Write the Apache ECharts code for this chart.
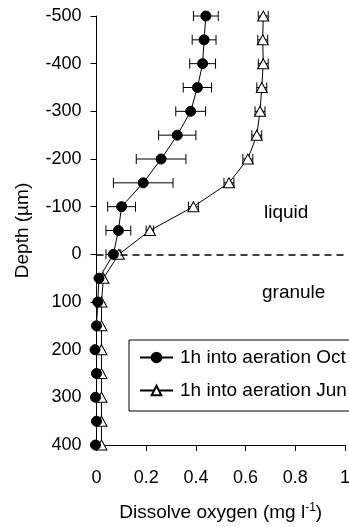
<!DOCTYPE html>
<html>
<head>
<meta charset="utf-8">
<script src="https://cdn.jsdelivr.net/npm/echarts@6/dist/echarts.min.js"></script>
<style>html,body{margin:0;padding:0;background:#fff}#c{width:349px;height:527px}</style>
</head>
<body>
<div id="c"></div>
<script>
// Data
var depths = [-500,-450,-400,-350,-300,-250,-200,-150,-100,-50,0,50,100,150,200,250,300,350,400];
var octValues = [0.44,0.433,0.427,0.406,0.379,0.325,0.26,0.188,0.101,0.088,0.068,0.01,0.005,0,-0.006,0,-0.004,0,-0.004];
var octErrors = [0.05,0.048,0.052,0.057,0.06,0.075,0.1,0.12,0.056,0.05,0.03,0,0,0,0,0,0,0,0];
var junValues = [0.671,0.669,0.671,0.665,0.658,0.645,0.609,0.533,0.39,0.215,0.09,0.028,0.02,0.02,0.02,0.02,0.02,0.02,0.02];
var junErrors = [0.02,0.02,0.02,0.02,0.02,0.02,0.02,0.02,0.02,0.015,0,0,0,0,0,0,0,0,0];
var xTicks = [0,0.2,0.4,0.6,0.8,1];
var yTicks = [-500,-400,-300,-200,-100,0,100,200,300,400];
var seriesNames = ['1h into aeration Oct','1h into aeration Jun'];

var FONT = 'Liberation Sans, Arial, sans-serif';

function pts(vals){ return vals.map(function(v,i){ return [v, depths[i]]; }); }
function errPts(vals, errs){ return vals.map(function(v,i){ return [v, depths[i], errs[i]]; }); }

function renderErr(params, api){
  var x = api.value(0), y = api.value(1), e = api.value(2);
  if (!e) return null;
  var p1 = api.coord([x - e, y]);
  var p2 = api.coord([x + e, y]);
  var st = {stroke:'#000', lineWidth:1};
  return {type:'group', children:[
    {type:'line', shape:{x1:p1[0],y1:p1[1],x2:p2[0],y2:p2[1]}, style:st},
    {type:'line', shape:{x1:p1[0],y1:p1[1]-5,x2:p1[0],y2:p1[1]+5}, style:st},
    {type:'line', shape:{x1:p2[0],y1:p2[1]-5,x2:p2[0],y2:p2[1]+5}, style:st}
  ]};
}

var chart = echarts.init(document.getElementById('c'), null, {renderer:'canvas'});
chart.setOption({
  animation:false,
  backgroundColor:'#fff',
  textStyle:{fontFamily:FONT},
  grid:{left:96.5, right:4, top:16, bottom:82, containLabel:false, outerBoundsMode:'none'},
  legend:{
    orient:'vertical', left:129, top:340,
    data:seriesNames,
    itemWidth:33, itemHeight:12, itemGap:14,
    padding:[8,10,11,10],
    borderColor:'#000', borderWidth:1, borderRadius:0,
    backgroundColor:'#fff',
    textStyle:{fontFamily:FONT, fontSize:19, color:'#000', padding:[0,0,0,2]}
  },
  xAxis:{
    type:'value', min:0, max:1, interval:0.2,
    name:'Dissolve oxygen (mg l{sup|-1})', nameLocation:'middle', nameGap:57,
    nameTextStyle:{fontFamily:FONT, fontSize:19, color:'#000',
      rich:{sup:{fontSize:12, verticalAlign:'top', padding:[0,0,9,0], fontFamily:FONT, color:'#000'}}},
    axisLine:{onZero:false, lineStyle:{color:'#000', width:1}},
    axisTick:{show:true, inside:false, length:6, lineStyle:{color:'#000'}},
    axisLabel:{fontFamily:FONT, fontSize:18, color:'#000', margin:24,
      formatter:function(v){ return xTicks.indexOf(Math.round(v*10)/10) >= 0 ? String(Math.round(v*10)/10) : ''; }},
    splitLine:{show:false}
  },
  yAxis:{
    type:'value', inverse:true, min:-500, max:400, interval:100,
    name:'Depth (\u00b5m)', nameLocation:'middle', nameGap:64, nameRotate:90,
    nameTextStyle:{fontFamily:FONT, fontSize:19, color:'#000'},
    axisLine:{onZero:false, lineStyle:{color:'#000', width:1}},
    axisTick:{show:true, inside:false, length:6, lineStyle:{color:'#000'}},
    axisLabel:{fontFamily:FONT, fontSize:18, color:'#000', margin:15,
      formatter:function(v){ return yTicks.indexOf(v) >= 0 ? String(v) : ''; }},
    splitLine:{show:false}
  },
  graphic:[
    {type:'text', left:264, top:203, style:{text:'liquid', font:'19px ' + FONT, fill:'#000'}},
    {type:'text', left:262, top:283, style:{text:'granule', font:'19px ' + FONT, fill:'#000'}}
  ],
  series:[
    {type:'custom', name:'errOct', renderItem:renderErr, data:errPts(octValues, octErrors), z:1, silent:true,
      encode:{x:0, y:1}},
    {type:'custom', name:'errJun', renderItem:renderErr, data:errPts(junValues, junErrors), z:1, silent:true,
      encode:{x:0, y:1}},
    {type:'line', name:seriesNames[1], data:pts(junValues), z:3, clip:false,
      symbol:'triangle', symbolSize:[11,10], showSymbol:true, showAllSymbol:true,
      lineStyle:{color:'#000', width:1},
      itemStyle:{color:'#fff', borderColor:'#000', borderWidth:1},
      markLine:{silent:true, symbol:['none','none'], label:{show:false},
        lineStyle:{color:'#000', width:1.5, type:[7,5]},
        data:[{yAxis:0}]}},
    {type:'line', name:seriesNames[0], data:pts(octValues), z:4, clip:false,
      symbol:'circle', symbolSize:10, showSymbol:true, showAllSymbol:true,
      lineStyle:{color:'#000', width:1},
      itemStyle:{color:'#000', borderColor:'#000', borderWidth:1}}
  ]
});
</script>
</body>
</html>
